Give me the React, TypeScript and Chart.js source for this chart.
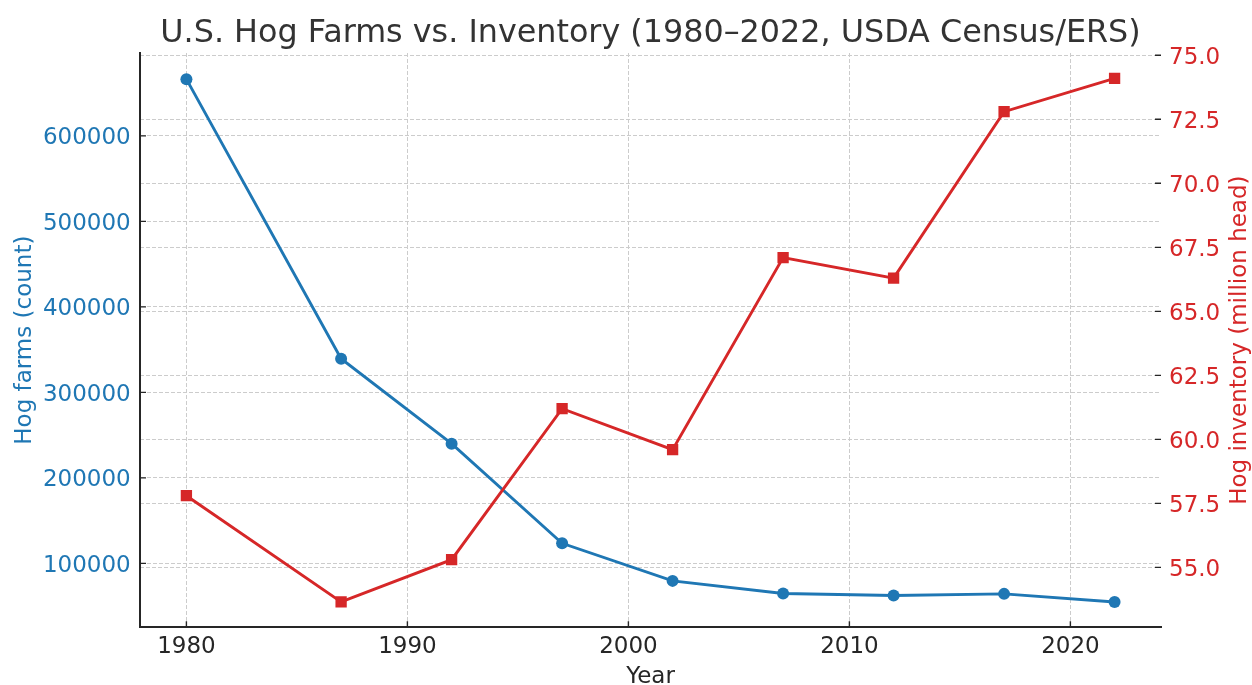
import { useEffect, useRef } from "react";
import { Chart, registerables } from "chart.js";

Chart.register(...registerables);

const years = [1980, 1987, 1992, 1997, 2002, 2007, 2012, 2017, 2022];
const hogFarms = [666400, 339400, 240000, 123500, 79500, 64700, 62400, 64300, 54800];
const hogInventory = [57.8, 53.65, 55.3, 61.2, 59.6, 67.1, 66.3, 72.8, 74.1];
const xTicks = [1980, 1990, 2000, 2010, 2020];
const farmTicks = [100000, 200000, 300000, 400000, 500000, 600000];
const inventoryTicks = [55, 57.5, 60, 62.5, 65, 67.5, 70, 72.5, 75];

const TITLE = "U.S. Hog Farms vs. Inventory (1980\u20132022, USDA Census/ERS)";
const X_TITLE = "Year";
const Y_TITLE = "Hog farms (count)";
const Y1_TITLE = "Hog inventory (million head)";

const BLUE = "#1f77b4";
const RED = "#d62728";
const DARK = "#333333";
const TICK_DARK = "#262626";
const GRID = "#cccccc";
const FONT = "'DejaVu Sans', sans-serif";
const TICK_SIZE = 23;

export default function App() {
  const ref = useRef<HTMLCanvasElement | null>(null);

  useEffect(() => {
    if (!ref.current) return;

    const overlay = {
      id: "overlay",
      afterDraw(chart: any) {
        const { ctx, chartArea: a, scales } = chart;
        ctx.save();
        // inward tick marks
        ctx.strokeStyle = TICK_DARK;
        ctx.lineWidth = 1.4;
        const TL = 6;
        ctx.beginPath();
        for (const t of scales.x.ticks) {
          const px = scales.x.getPixelForValue(t.value);
          ctx.moveTo(px, a.bottom);
          ctx.lineTo(px, a.bottom - TL);
        }
        for (const t of scales.y.ticks) {
          const py = scales.y.getPixelForValue(t.value);
          ctx.moveTo(a.left, py);
          ctx.lineTo(a.left + TL, py);
        }
        for (const t of scales.y1.ticks) {
          const py = scales.y1.getPixelForValue(t.value);
          ctx.moveTo(a.right, py);
          ctx.lineTo(a.right - TL, py);
        }
        ctx.stroke();

        // tick labels
        const half = TICK_SIZE * 0.3645;
        ctx.font = `${TICK_SIZE}px ${FONT}`;
        ctx.textBaseline = "alphabetic";
        ctx.textAlign = "center";
        ctx.fillStyle = TICK_DARK;
        for (const t of scales.x.ticks) {
          const px = scales.x.getPixelForValue(t.value);
          ctx.fillText(String(t.value), px, 653.3);
        }
        ctx.textAlign = "right";
        ctx.fillStyle = BLUE;
        for (const t of scales.y.ticks) {
          const py = scales.y.getPixelForValue(t.value);
          ctx.fillText(String(t.value), a.left - 9.3, py + half);
        }
        ctx.textAlign = "left";
        ctx.fillStyle = RED;
        for (const t of scales.y1.ticks) {
          const py = scales.y1.getPixelForValue(t.value);
          ctx.fillText(Number(t.value).toFixed(1), a.right + 8, py + half);
        }

        // titles
        const cx = (a.left + a.right) / 2;
        const cy = (a.top + a.bottom) / 2;
        ctx.textAlign = "center";
        ctx.textBaseline = "alphabetic";
        ctx.fillStyle = DARK;
        ctx.font = `31.8px ${FONT}`;
        ctx.fillText(TITLE, cx, 41.7);

        ctx.font = `23px ${FONT}`;
        ctx.fillStyle = TICK_DARK;
        ctx.fillText(X_TITLE, cx, 683);

        ctx.save();
        ctx.translate(31, cy);
        ctx.rotate(-Math.PI / 2);
        ctx.fillStyle = BLUE;
        ctx.fillText(Y_TITLE, 0, 0);
        ctx.restore();

        ctx.save();
        ctx.translate(1246, cy);
        ctx.rotate(-Math.PI / 2);
        ctx.fillStyle = RED;
        ctx.fillText(Y1_TITLE, 0, 0);
        ctx.restore();

        ctx.restore();
      },
    };

    const gridOpts = {
      display: true,
      color: GRID,
      lineWidth: 1,
      drawTicks: false,
      tickLength: 0,
    };
    const dash = { dash: [4, 2] };

    const chart = new Chart(ref.current, {
      type: "line",
      data: {
        datasets: [
          {
            label: Y1_TITLE,
            data: years.map((y, i) => ({ x: y, y: hogInventory[i] })),
            yAxisID: "y1",
            borderColor: RED,
            backgroundColor: RED,
            pointBackgroundColor: RED,
            borderWidth: 2.9,
            pointStyle: "rect",
            pointRadius: 8,
            pointBorderWidth: 0,
            tension: 0,
            order: 0,
          },
          {
            label: Y_TITLE,
            data: years.map((y, i) => ({ x: y, y: hogFarms[i] })),
            yAxisID: "y",
            borderColor: BLUE,
            backgroundColor: BLUE,
            pointBackgroundColor: BLUE,
            borderWidth: 2.9,
            pointStyle: "circle",
            pointRadius: 6,
            pointBorderWidth: 0,
            tension: 0,
            order: 1,
          },
        ],
      },
      options: {
        animation: false,
        responsive: true,
        maintainAspectRatio: false,
        layout: { padding: { top: 53, left: 0, right: 0, bottom: 0 } },
        plugins: {
          legend: { display: false },
          tooltip: { enabled: false },
          title: { display: false },
        },
        scales: {
          x: {
            type: "linear",
            position: "bottom",
            min: 1977.9,
            max: 2024.1,
            afterBuildTicks: (s: any) => {
              s.ticks = xTicks.map((v) => ({ value: v }));
            },
            afterFit: (s: any) => {
              s.height = 57.7;
            },
            ticks: { display: false },
            grid: gridOpts,
            border: { display: true, color: TICK_DARK, width: 2, ...dash },
          },
          y: {
            type: "linear",
            position: "left",
            min: 25200,
            max: 697000,
            afterBuildTicks: (s: any) => {
              s.ticks = farmTicks.map((v) => ({ value: v }));
            },
            afterFit: (s: any) => {
              s.width = 140;
            },
            ticks: { display: false },
            grid: gridOpts,
            border: { display: true, color: TICK_DARK, width: 2, ...dash },
          },
          y1: {
            type: "linear",
            position: "right",
            min: 52.66,
            max: 75.09,
            afterBuildTicks: (s: any) => {
              s.ticks = inventoryTicks.map((v) => ({ value: v }));
            },
            afterFit: (s: any) => {
              s.width = 91;
            },
            ticks: { display: false },
            grid: gridOpts,
            border: { display: false, ...dash },
          },
        },
      },
      plugins: [overlay],
    } as any);

    return () => chart.destroy();
  }, []);

  return (
    <div style={{ position: "absolute", left: 0, top: 0, width: 1252, height: 685 }}>
      <canvas ref={ref} />
    </div>
  );
}
